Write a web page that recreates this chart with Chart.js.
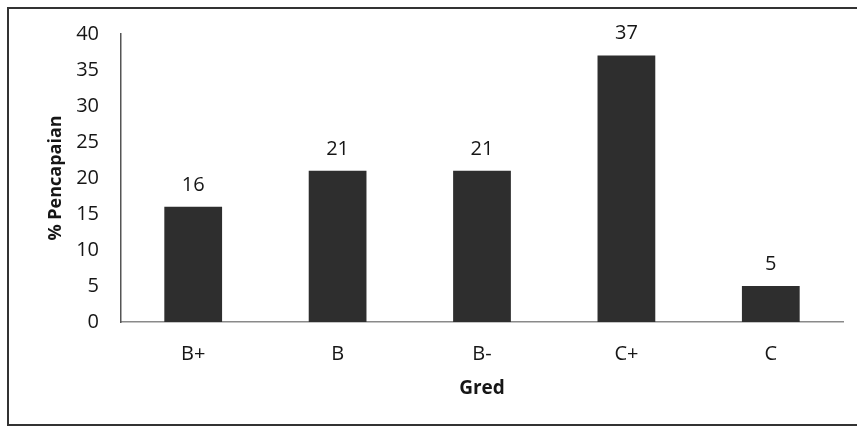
<!DOCTYPE html>
<html>
<head>
<meta charset="utf-8">
<script src="https://cdn.jsdelivr.net/npm/chart.js@4/dist/chart.umd.min.js"></script>
<style>
  html, body { margin: 0; padding: 0; background: #fff; }
  #wrap { width: 857px; height: 426px; position: relative; }
</style>
</head>
<body>
<div id="wrap"><canvas id="chart"></canvas></div>
<script>
const grades = ['B+', 'B', 'B-', 'C+', 'C'];
const achievement = [16, 21, 21, 37, 5];
const yTicks = [0, 5, 10, 15, 20, 25, 30, 35, 40];

const FONT = "'Open Sans', 'Liberation Sans', sans-serif";
const TEXT = '#161616';

// outer frame like the original picture
const framePlugin = {
  id: 'frame',
  beforeDraw(chart) {
    const ctx = chart.ctx;
    ctx.save();
    ctx.fillStyle = '#fff';
    ctx.fillRect(0, 0, chart.width, chart.height);
    ctx.strokeStyle = '#333';
    ctx.lineWidth = 2;
    ctx.strokeRect(8, 8, chart.width, chart.height - 9);
    ctx.restore();
  },
};

// value labels above each bar
const valueLabels = {
  id: 'valueLabels',
  afterDatasetsDraw(chart) {
    const ctx = chart.ctx;
    const meta = chart.getDatasetMeta(0);
    ctx.save();
    ctx.font = '20px ' + FONT;
    ctx.fillStyle = TEXT;
    ctx.textAlign = 'center';
    ctx.textBaseline = 'middle';
    meta.data.forEach((bar, i) => {
      ctx.fillText(String(achievement[i]), bar.x, bar.y - 22);
    });
    ctx.restore();
  },
};

new Chart(document.getElementById('chart'), {
  type: 'bar',
  data: {
    labels: grades,
    datasets: [
      {
        data: achievement,
        backgroundColor: '#2e2e2e',
        borderWidth: 0,
        barPercentage: 0.4,
        categoryPercentage: 1,
      },
    ],
  },
  options: {
    responsive: true,
    maintainAspectRatio: false,
    animation: false,
    layout: {
      padding: { top: 34, right: 14, left: 0, bottom: 0 },
    },
    plugins: {
      legend: { display: false },
      tooltip: { enabled: false },
    },
    scales: {
      x: {
        grid: { display: false, drawTicks: false },
        border: { display: true, color: '#8a8a8a', width: 1.5 },
        ticks: {
          color: TEXT,
          padding: 20,
          font: { family: FONT, size: 20 },
        },
        title: {
          display: true,
          text: 'Gred',
          color: TEXT,
          font: { family: FONT, size: 19, weight: 'bold' },
          padding: { top: 0, bottom: 26 },
        },
        afterFit(scale) {
          scale.height = 104;
        },
      },
      y: {
        min: 0,
        max: 40,
        afterBuildTicks(scale) {
          scale.ticks = yTicks.map((v) => ({ value: v }));
        },
        grid: { display: false, drawTicks: false },
        border: { display: true, color: '#555', width: 1.5 },
        ticks: {
          color: TEXT,
          padding: 22,
          font: { family: FONT, size: 20 },
        },
        title: {
          display: true,
          text: '% Pencapaian',
          color: TEXT,
          font: { family: FONT, size: 18, weight: 'bold' },
          padding: { top: 45, bottom: 0 },
        },
        afterFit(scale) {
          scale.width = 121;
        },
      },
    },
  },
  plugins: [framePlugin, valueLabels],
});
</script>
</body>
</html>
